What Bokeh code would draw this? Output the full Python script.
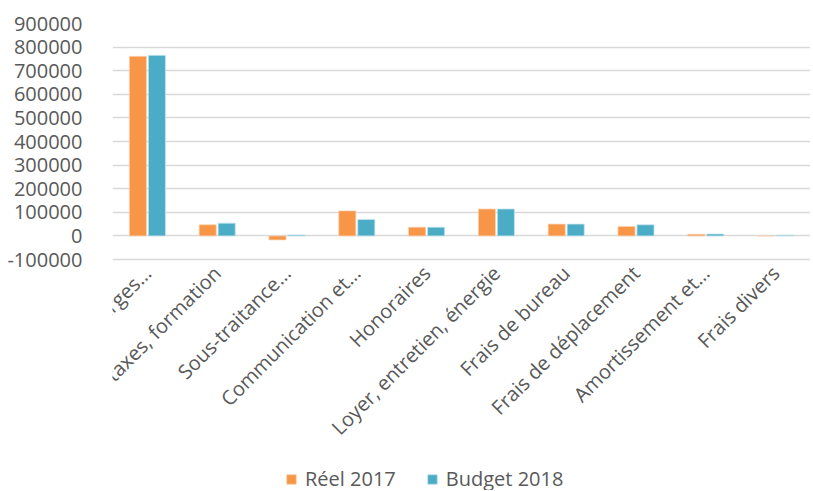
import math
from bokeh.plotting import figure
from bokeh.models import ColumnDataSource, FactorRange, Range1d, Legend, LegendItem, NumeralTickFormatter, FixedTicker
from bokeh.transform import dodge
from bokeh.embed import file_html
from bokeh.resources import INLINE

categories = ["Salaires et charges\u2026", "Imp\u00f4ts, taxes, formation", "Sous-traitance\u2026",
              "Communication et\u2026", "Honoraires", "Loyer, entretien, \u00e9nergie",
              "Frais de bureau", "Frais de d\u00e9placement", "Amortissement et\u2026", "Frais divers"]
reel_2017 = [761000, 47000, -17000, 106000, 37000, 114000, 50000, 40000, 7000, 0]
budget_2018 = [765000, 54000, 4000, 70000, 37000, 114000, 50000, 47000, 8000, 3000]
series_names = ["R\u00e9el 2017", "Budget 2018"]
y_ticks = [-100000, 0, 100000, 200000, 300000, 400000, 500000, 600000, 700000, 800000, 900000]

ORANGE = "#F79646"
BLUE = "#4BACC6"
FONT = "Open Sans"
TXT = "#595959"

# geometry: value axis spans 236 px; frame extends below it to hold labels and legend
AXIS_PX = 236
FRAME_H = 467
y_top = y_ticks[-1]
y_bot = y_ticks[0]
y_start = y_top - (y_top - y_bot) * FRAME_H / AXIS_PX

src = ColumnDataSource(dict(cat=categories, reel=reel_2017, budget=budget_2018))

p = figure(x_range=FactorRange(*categories), y_range=Range1d(y_start, y_top),
           frame_width=698, frame_height=FRAME_H, output_backend="svg", toolbar_location=None,
           min_border_left=112, min_border_right=0, min_border_top=23, min_border_bottom=0)
p.outline_line_color = None

r1 = p.vbar(x=dodge("cat", -0.136, range=p.x_range), top="reel", width=0.245, source=src,
            fill_color=ORANGE, line_color="#FAD3B4", line_width=0.75)
r2 = p.vbar(x=dodge("cat", 0.136, range=p.x_range), top="budget", width=0.245, source=src,
            fill_color=BLUE, line_color="#C5E6EF", line_width=0.75)

p.yaxis.ticker = FixedTicker(ticks=y_ticks)
p.yaxis.formatter = NumeralTickFormatter(format="0")
p.xaxis.fixed_location = y_bot
for ax in (p.xaxis[0], p.yaxis[0]):
    ax.axis_line_color = None
    ax.major_tick_line_color = None
    ax.minor_tick_line_color = None
    ax.major_label_text_font = FONT
    ax.major_label_text_font_size = "20px"
    ax.major_label_text_color = TXT
p.yaxis.major_label_standoff = 24
p.xaxis.major_label_orientation = math.pi / 4
p.xaxis.major_label_standoff = 4
p.xgrid.grid_line_color = None
p.ygrid.grid_line_color = "#D9D9D9"
p.ygrid.grid_line_width = 1.5

legend = Legend(items=[LegendItem(label=series_names[0], renderers=[r1]),
                       LegendItem(label=series_names[1], renderers=[r2])],
                orientation="horizontal", location=(173, -2),
                label_text_font=FONT, label_text_font_size="20px", label_text_color=TXT,
                glyph_width=12, glyph_height=12, label_standoff=8, spacing=30,
                border_line_color=None, background_fill_alpha=0, padding=0, margin=0)
p.add_layout(legend, "center")

open("out.html", "w").write(file_html(p, INLINE))
